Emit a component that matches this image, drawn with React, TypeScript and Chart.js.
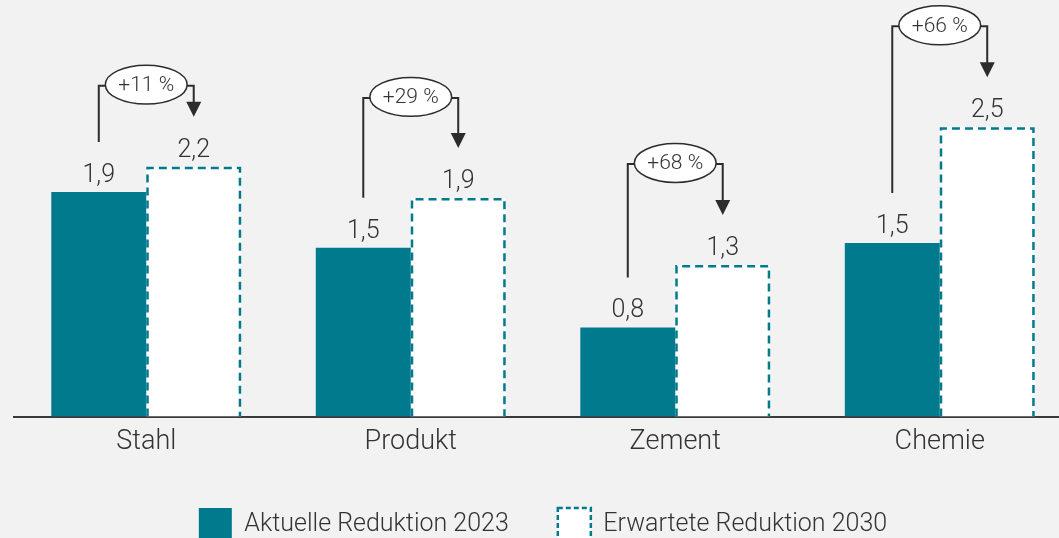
import React, { useEffect, useRef } from "react";
import { Chart, registerables } from "chart.js";

Chart.register(...registerables);

// ---- data ----
const categories = ["Stahl", "Produkt", "Zement", "Chemie"];
const seriesNames = ["Aktuelle Reduktion 2023", "Erwartete Reduktion 2030"];
const actual2023 = [1.94, 1.46, 0.77, 1.5];
const expected2030 = [2.16, 1.89, 1.31, 2.5];
const changeLabels = ["+11 %", "+29 %", "+68 %", "+66 %"];

// ---- style ----
const TEAL = "#007a8c";
const TEXT = "#333333";
const LINE = "#2a2c2e";
const BG = "#f2f2f2";
const FONT = "Roboto, 'Open Sans', sans-serif";
const bracketLift = [81, 100, 101, 101];

const fmt = (v: number) => v.toFixed(1).replace(".", ",");

const overlayPlugin = {
  id: "overlay",
  afterDatasetsDraw(chart: any) {
    const ctx = chart.ctx as CanvasRenderingContext2D;
    const metaA = chart.getDatasetMeta(0);
    const metaB = chart.getDatasetMeta(1);
    ctx.save();

    // dashed outlines of 2030 bars
    metaB.data.forEach((el: any) => {
      const lw = 2.5;
      const l = el.x - el.width / 2 + lw / 2;
      const r = el.x + el.width / 2 - lw / 2;
      const t = el.y + lw / 2;
      ctx.beginPath();
      ctx.setLineDash([8, 5]);
      ctx.lineWidth = lw;
      ctx.strokeStyle = TEAL;
      ctx.moveTo(l, el.base);
      ctx.lineTo(l, t);
      ctx.lineTo(r, t);
      ctx.lineTo(r, el.base);
      ctx.stroke();
    });
    ctx.setLineDash([]);

    // value labels
    ctx.font = `300 25px ${FONT}`;
    ctx.fillStyle = TEXT;
    ctx.textAlign = "center";
    ctx.textBaseline = "alphabetic";
    metaA.data.forEach((el: any, i: number) => {
      ctx.fillText(fmt(actual2023[i]), el.x, el.y - 10);
    });
    metaB.data.forEach((el: any, i: number) => {
      ctx.fillText(fmt(expected2030[i]), el.x, el.y - 10);
    });

    // change brackets
    categories.forEach((_, i) => {
      const a = metaA.data[i];
      const b = metaB.data[i];
      const x1 = a.x;
      const x2 = b.x;
      const yStart = a.y - 50;
      const tip = b.y - 50;
      const yH = b.y - bracketLift[i];
      ctx.strokeStyle = LINE;
      ctx.lineWidth = 2;
      ctx.beginPath();
      ctx.moveTo(x1, yStart);
      ctx.lineTo(x1, yH);
      ctx.lineTo(x2, yH);
      ctx.lineTo(x2, tip - 13);
      ctx.stroke();
      ctx.fillStyle = LINE;
      ctx.beginPath();
      ctx.moveTo(x2 - 7.5, tip - 15);
      ctx.lineTo(x2 + 7.5, tip - 15);
      ctx.lineTo(x2, tip);
      ctx.closePath();
      ctx.fill();

      ctx.font = `300 21px ${FONT}`;
      const tw = ctx.measureText(changeLabels[i]).width;
      const rx = tw / 2 + 13;
      const ry = rx / 2.1;
      const cx = (x1 + x2) / 2;
      const cy = yH - 1;
      ctx.beginPath();
      ctx.ellipse(cx, cy, rx, ry, 0, 0, Math.PI * 2);
      ctx.fillStyle = "#ffffff";
      ctx.fill();
      ctx.lineWidth = 1.5;
      ctx.strokeStyle = LINE;
      ctx.stroke();
      ctx.fillStyle = TEXT;
      ctx.textBaseline = "middle";
      ctx.fillText(changeLabels[i], cx, cy + 1);
      ctx.textBaseline = "alphabetic";
    });

    ctx.restore();
  },
};

export default function App() {
  const ref = useRef<HTMLCanvasElement>(null);

  useEffect(() => {
    if (!ref.current) return;
    const chart = new Chart(ref.current, {
      type: "bar",
      data: {
        labels: categories,
        datasets: [
          {
            label: seriesNames[0],
            data: actual2023,
            backgroundColor: TEAL,
            borderWidth: 0,
            categoryPercentage: 0.718,
            barPercentage: 1,
          },
          {
            label: seriesNames[1],
            data: expected2030,
            backgroundColor: "#ffffff",
            borderWidth: 0,
            categoryPercentage: 0.718,
            barPercentage: 1,
          },
        ],
      },
      options: {
        responsive: false,
        animation: false,
        devicePixelRatio: 1,
        layout: { padding: { left: 14, right: 28, top: 0, bottom: 0 } },
        scales: {
          x: {
            grid: { display: false, drawTicks: false },
            border: { display: true, color: "#3a3a3a", width: 2 },
            ticks: {
              padding: 9,
              color: TEXT,
              font: { family: FONT, size: 27, weight: "300" as any },
            },
            afterFit: (scale: any) => {
              scale.height -= 8;
            },
          },
          y: { display: false, min: 0, max: 3.6 },
        },
        plugins: {
          tooltip: { enabled: false },
          legend: {
            position: "bottom",
            labels: {
              boxWidth: 33,
              boxHeight: 33,
              padding: 49,
              color: TEXT,
              font: { family: FONT, size: 25, weight: "300" as any },
              generateLabels: () => [
                {
                  text: seriesNames[0],
                  fillStyle: TEAL,
                  strokeStyle: TEAL,
                  lineWidth: 0,
                  hidden: false,
                  datasetIndex: 0,
                  fontColor: TEXT,
                },
                {
                  text: seriesNames[1],
                  fillStyle: "#ffffff",
                  strokeStyle: TEAL,
                  lineWidth: 2.5,
                  lineDash: [5, 3],
                  hidden: false,
                  datasetIndex: 1,
                  fontColor: TEXT,
                },
              ],
            },
          },
        },
      },
      plugins: [overlayPlugin],
    });
    return () => chart.destroy();
  }, []);

  return (
    <div
      style={{
        position: "fixed",
        left: 0,
        top: 0,
        width: 1059,
        height: 538,
        overflow: "hidden",
        background: BG,
      }}
    >
      <canvas
        ref={ref}
        width={1100}
        height={551}
        style={{ position: "absolute", left: 0, top: 0, width: 1100, height: 551 }}
      />
    </div>
  );
}
